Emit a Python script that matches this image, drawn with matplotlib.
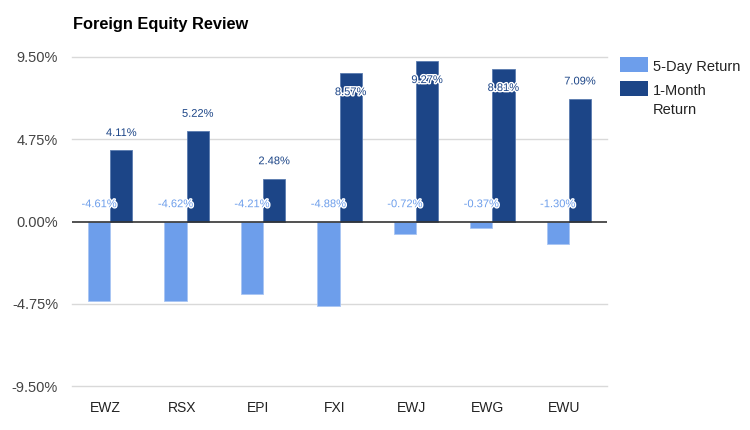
import matplotlib
matplotlib.use("Agg")
import matplotlib.pyplot as plt
import matplotlib.patheffects as pe
from matplotlib.patches import Rectangle
import numpy as np

plt.rcParams['font.family'] = ['Liberation Sans', 'DejaVu Sans']

categories = ["EWZ", "RSX", "EPI", "FXI", "EWJ", "EWG", "EWU"]
series_names = ["5-Day Return", "1-Month\nReturn"]
five_day = [-4.61, -4.62, -4.21, -4.88, -0.72, -0.37, -1.30]
one_month = [4.11, 5.22, 2.48, 8.57, 9.27, 8.81, 7.09]
yticks = [-9.50, -4.75, 0.00, 4.75, 9.50]

c_light = "#6d9eeb"
c_dark = "#1c4587"

W, H = 750, 430
fig = plt.figure(figsize=(7.5, 4.3), dpi=100)
ax = fig.add_axes([72/W, 1 - 386/H, (607-72)/W, (386-57)/H])

x = np.arange(len(categories))
w = 0.29
ax.bar(x - w/2, five_day, w, color=c_light, edgecolor="#a9c5f3", linewidth=0.6, zorder=3)
ax.bar(x + w/2, one_month, w, color=c_dark, edgecolor="#5a7bb0", linewidth=0.6, zorder=3)

ax.set_xlim(-0.5, len(categories) - 0.5)
ax.set_ylim(yticks[0], yticks[-1])
ax.set_yticks(yticks)
ax.set_yticklabels([f"{v:.2f}%" for v in yticks])
ax.set_xticks(x - 0.06)
ax.set_xticklabels(categories)
ax.tick_params(axis='y', length=0, pad=10, labelsize=10.5, labelcolor="#444444")
ax.tick_params(axis='x', length=0, pad=11, labelsize=10, labelcolor="#222222")
for s in ax.spines.values():
    s.set_visible(False)
for v in yticks:
    if v != 0:
        ax.axhline(v, color="#d9d9d9", linewidth=1, zorder=0, clip_on=False)
ax.axhline(0, color="#333333", linewidth=1.2, zorder=4)

halo = [pe.withStroke(linewidth=2, foreground="white")]
for xi, v in zip(x, five_day):
    ax.text(xi - w/2, 1.0, f"{v:.2f}%", ha="center", va="center",
            fontsize=8, color=c_light, path_effects=halo, zorder=5)
for xi, v in zip(x, one_month):
    ypos = v + 1.0 if v + 1.5 < yticks[-1] else v - 1.1
    ax.text(xi + w/2, ypos, f"{v:.2f}%", ha="center", va="center",
            fontsize=8, color=c_dark, path_effects=halo, zorder=5)

fig.text(73/W, 1 - 24/H, "Foreign Equity Review", fontsize=11.8, fontweight="bold",
         ha="left", va="center", color="#000000")

# legend (manual, to match line spacing)
for i, (name, col) in enumerate(zip(series_names, [c_light, c_dark])):
    top = 57 + i * 24
    fig.patches.append(Rectangle((620/W, 1 - (top + 15)/H), 28/W, 15/H,
                                 transform=fig.transFigure, facecolor=col,
                                 edgecolor="none"))
    fig.text(653/W, 1 - (top + 3)/H, name, fontsize=10.5, color="#222222",
             ha="left", va="top", linespacing=1.5)

fig.savefig("out.png", dpi=100)
